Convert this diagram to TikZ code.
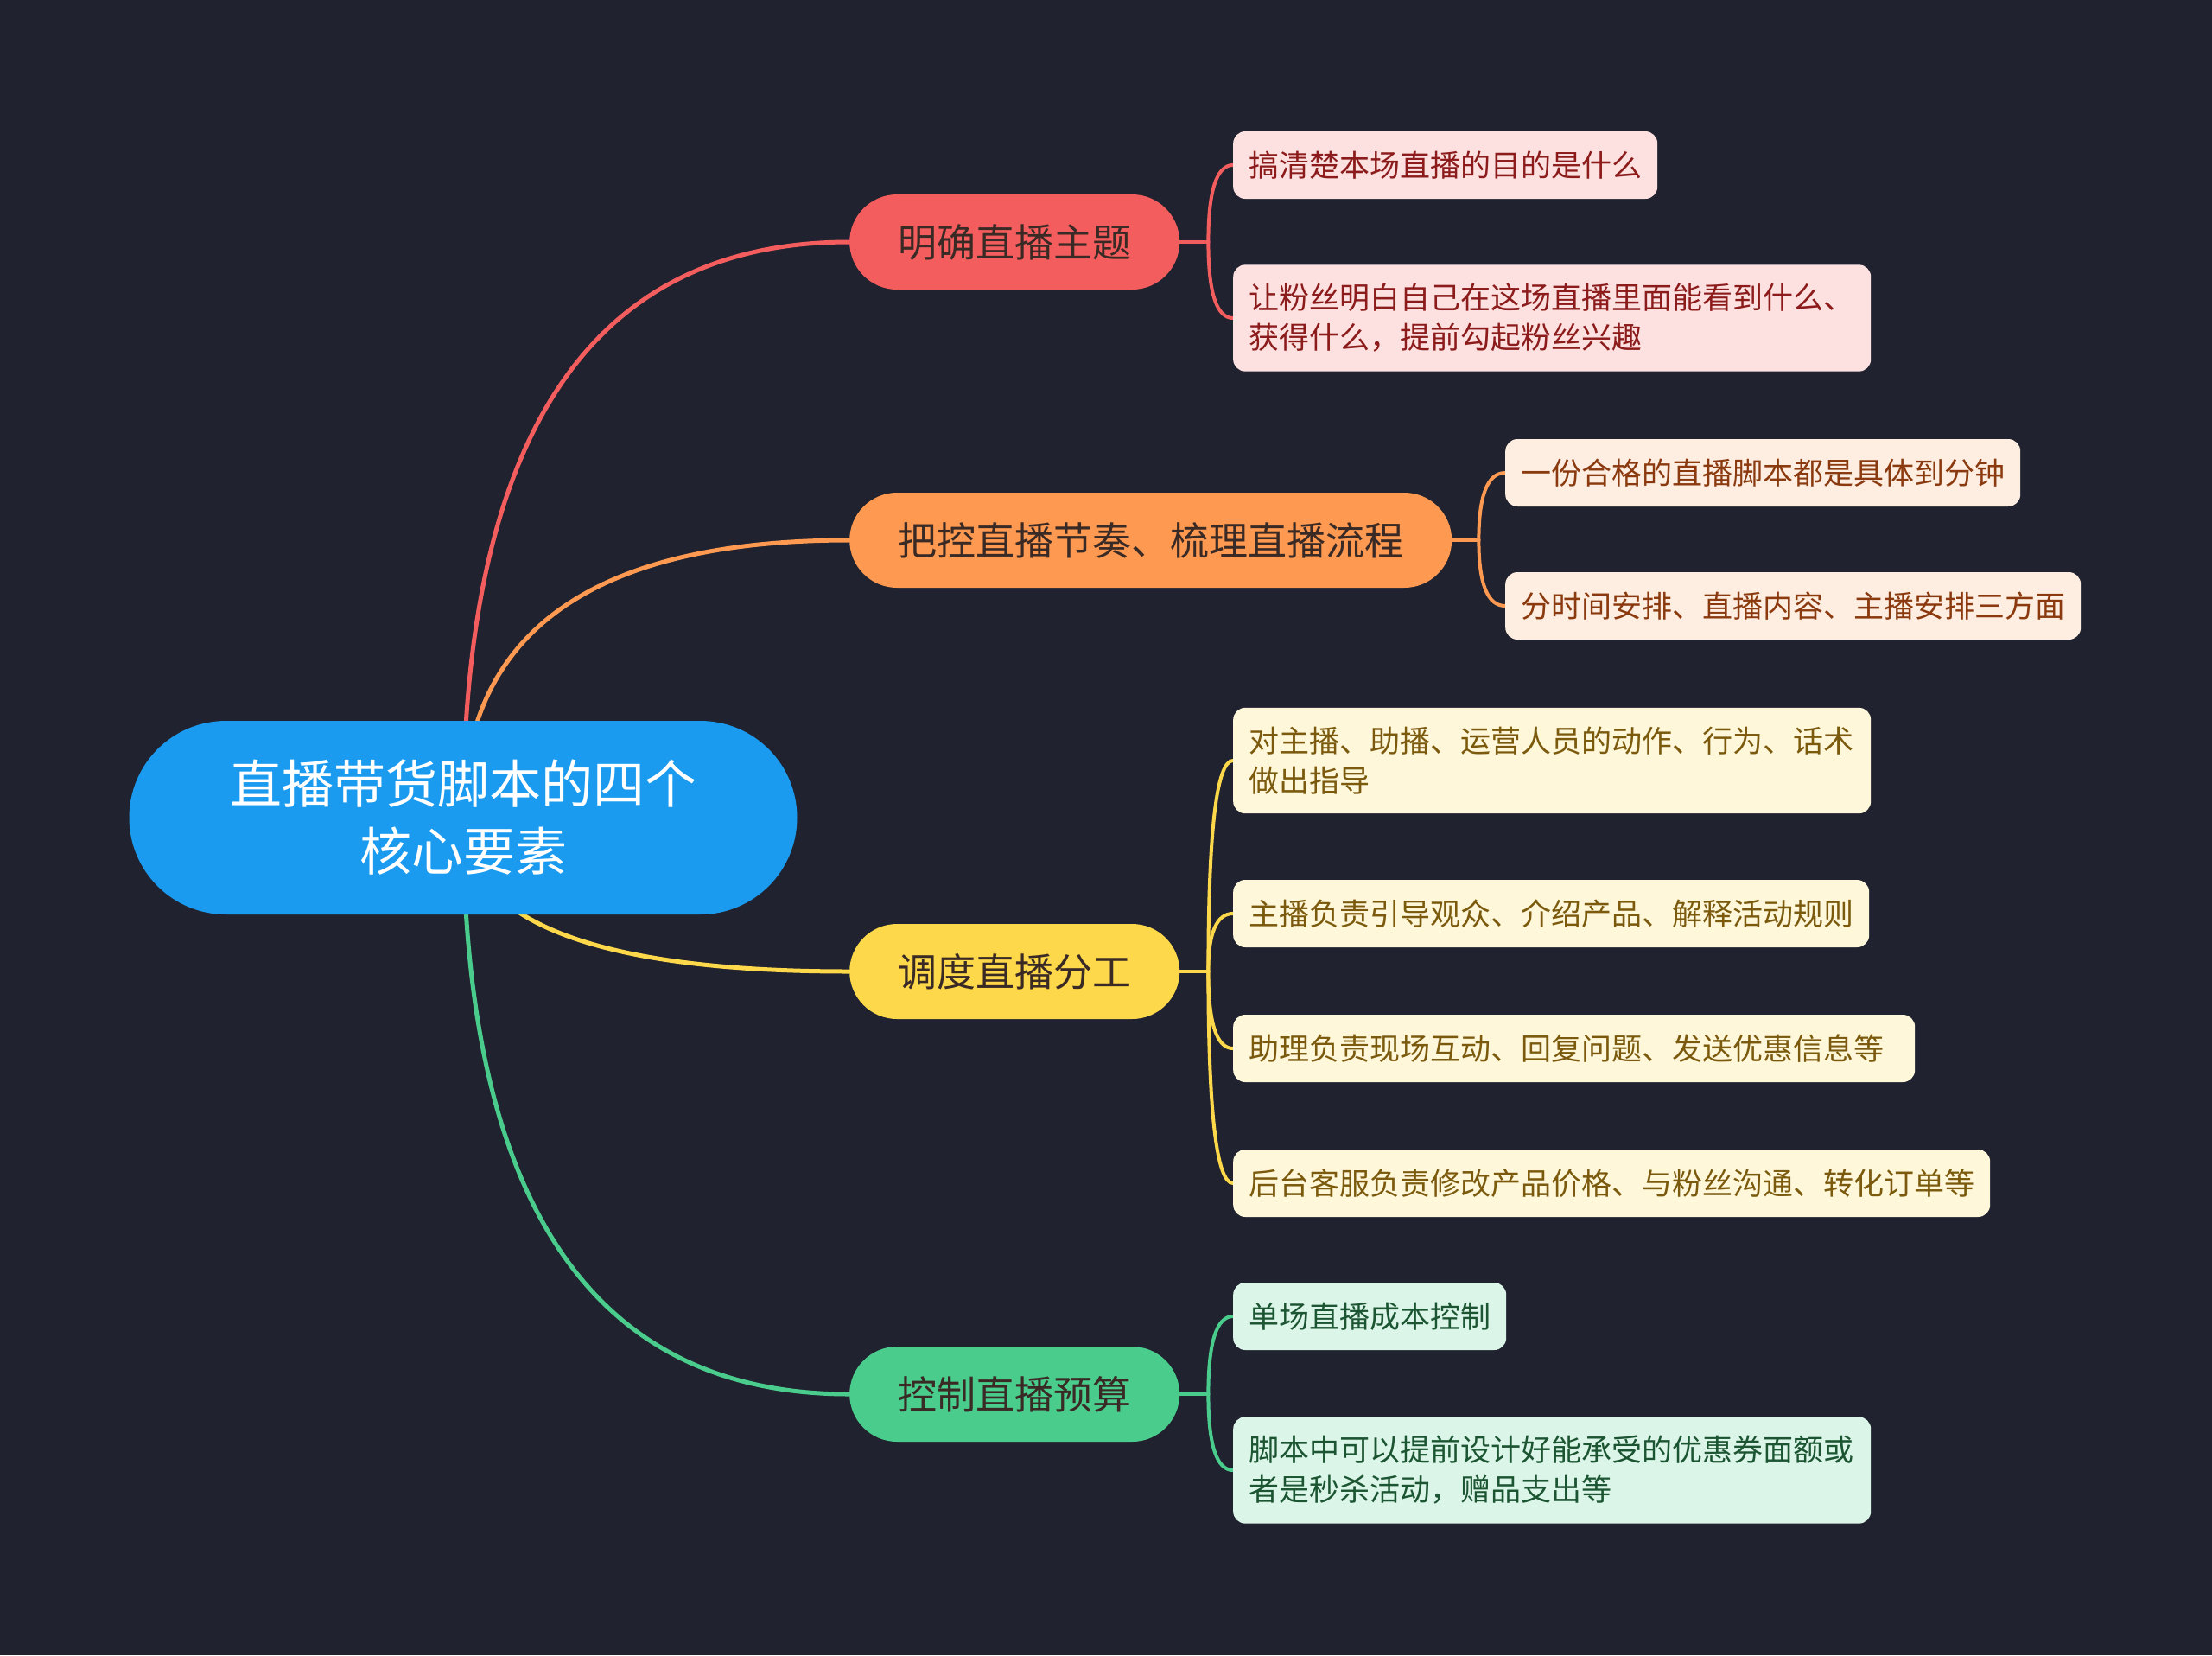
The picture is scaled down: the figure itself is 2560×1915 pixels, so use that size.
\documentclass[tikz,border=0pt]{standalone}
\usepackage{fontspec}
\setmainfont{Noto Sans CJK SC}
\usetikzlibrary{positioning, calc}
\definecolor{bgNavy}{HTML}{20232F}
\definecolor{rootBlue}{HTML}{1A9BF0}
\definecolor{topicRed}{HTML}{F45D5D}
\definecolor{topicOrange}{HTML}{FD9950}
\definecolor{topicYellow}{HTML}{FDD84A}
\definecolor{topicGreen}{HTML}{4ACD8C}
\definecolor{leafRed}{HTML}{FDE1E1}
\definecolor{leafOrange}{HTML}{FEEEE2}
\definecolor{leafYellow}{HTML}{FEF7DA}
\definecolor{leafGreen}{HTML}{DCF5E9}
\definecolor{inkRed}{HTML}{8C1B1B}
\definecolor{inkOrange}{HTML}{8A3A0E}
\definecolor{inkYellow}{HTML}{7B5A0D}
\definecolor{inkGreen}{HTML}{1C5532}
\definecolor{inkDark}{HTML}{3A2A26}
\pgfdeclarelayer{backdrop}
\pgfsetlayers{backdrop,main}

\begin{document}
\begin{tikzpicture}[
    x=1pt, y=-1pt,
    root/.style={rectangle, rounded corners=112pt, fill=rootBlue, text=white, minimum width=773pt, minimum height=224pt, align=center, font=\fontsize{60}{78}\selectfont},
    topic/.style={rectangle, rounded corners=55pt, minimum height=110pt, inner xsep=56pt, text=inkDark, font=\fontsize{45}{52}\selectfont, anchor=west},
    leaf/.style={rectangle, rounded corners=14pt, inner xsep=18pt, inner ysep=22pt, minimum height=78pt, align=left, font=\fontsize{35}{46}\selectfont, anchor=west},
    wide/.style={text width=702pt},
    curvy/.style={to path={.. controls ($(\tikztostart)!2/3!(\tikztostart |- \tikztotarget)$) and ($(\tikztotarget)!2/3!(\tikztostart |- \tikztotarget)$) .. (\tikztotarget)}},
    link/.style={curvy, line width=5pt, line cap=round},
    twig/.style={line width=4pt, line cap=round}
]
\useasboundingbox (0,0) rectangle (2560,1915);

\node[root] (root) at (536,946) {直播带货脚本的四个\\核心要素};

\node[topic, fill=topicRed] (b1) at (983,280) {明确直播主题};
\node[topic, fill=topicOrange] (b2) at (983,625) {把控直播节奏、梳理直播流程};
\node[topic, fill=topicYellow] (b3) at (983,1124) {调度直播分工};
\node[topic, fill=topicGreen] (b4) at (983,1613) {控制直播预算};

\node[leaf, fill=leafRed, text=inkRed] (l1a) at (1427,191) {搞清楚本场直播的目的是什么};
\node[leaf, wide, fill=leafRed, text=inkRed] (l1b) at (1427,368) {让粉丝明白自己在这场直播里面能看到什么、\\获得什么，提前勾起粉丝兴趣};

\node[leaf, fill=leafOrange, text=inkOrange] (l2a) at (1742,547) {一份合格的直播脚本都是具体到分钟};
\node[leaf, fill=leafOrange, text=inkOrange] (l2b) at (1742,701) {分时间安排、直播内容、主播安排三方面};

\node[leaf, wide, fill=leafYellow, text=inkYellow] (l3a) at (1427,880) {对主播、助播、运营人员的动作、行为、话术\\做出指导};
\node[leaf, fill=leafYellow, text=inkYellow] (l3b) at (1427,1057) {主播负责引导观众、介绍产品、解释活动规则};
\node[leaf, text width=753pt, fill=leafYellow, text=inkYellow] (l3c) at (1427,1213) {助理负责现场互动、回复问题、发送优惠信息等};
\node[leaf, fill=leafYellow, text=inkYellow] (l3d) at (1427,1369) {后台客服负责修改产品价格、与粉丝沟通、转化订单等};

\node[leaf, fill=leafGreen, text=inkGreen] (l4a) at (1427,1523) {单场直播成本控制};
\node[leaf, wide, fill=leafGreen, text=inkGreen] (l4b) at (1427,1701) {脚本中可以提前设计好能承受的优惠券面额或\\者是秒杀活动，赠品支出等};

% junctions of the brackets
\coordinate[right=33pt of b1.east] (j1);
\coordinate[right=31pt of b2.east] (j2);
\coordinate[right=33pt of b3.east] (j3);
\coordinate[right=33pt of b4.east] (j4);

\begin{pgfonlayer}{backdrop}
\fill[bgNavy] (0,0) rectangle (2560,1915);

\draw[link, topicRed] (root.center) to (b1.west);
\draw[link, topicOrange] (root.center) to (b2.west);
\draw[link, topicYellow] (root.center) to (b3.west);
\draw[link, topicGreen] (root.center) to (b4.west);

\draw[twig, topicRed] (b1.east) -- (j1);
\draw[twig, curvy, topicRed] (j1) to (l1a.west);
\draw[twig, curvy, topicRed] (j1) to (l1b.west);

\draw[twig, topicOrange] (b2.east) -- (j2);
\draw[twig, curvy, topicOrange] (j2) to (l2a.west);
\draw[twig, curvy, topicOrange] (j2) to (l2b.west);

\draw[twig, topicYellow] (b3.east) -- (j3);
\draw[twig, curvy, topicYellow] (j3) to (l3a.west);
\draw[twig, curvy, topicYellow] (j3) to (l3b.west);
\draw[twig, curvy, topicYellow] (j3) to (l3c.west);
\draw[twig, curvy, topicYellow] (j3) to (l3d.west);

\draw[twig, topicGreen] (b4.east) -- (j4);
\draw[twig, curvy, topicGreen] (j4) to (l4a.west);
\draw[twig, curvy, topicGreen] (j4) to (l4b.west);
\end{pgfonlayer}

\end{tikzpicture}
\end{document}
